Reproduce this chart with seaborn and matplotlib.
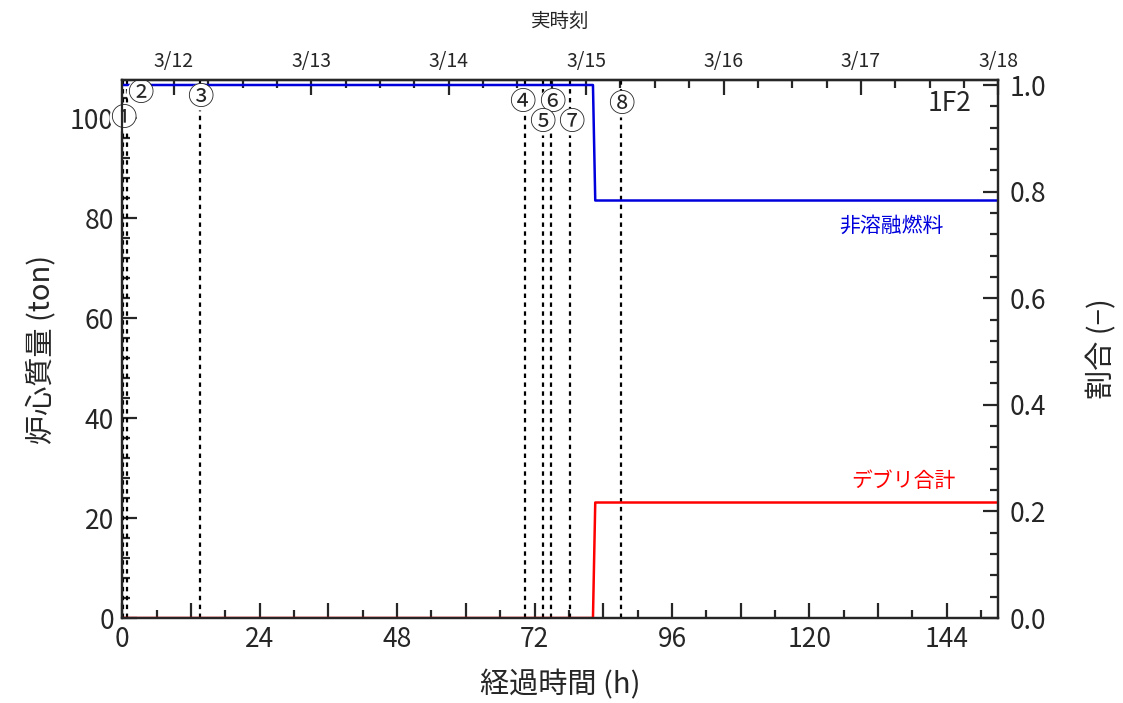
import numpy as np
import pandas as pd
import matplotlib
matplotlib.use("Agg")
import matplotlib.pyplot as plt
from matplotlib.ticker import MultipleLocator, FuncFormatter, FixedLocator
import seaborn as sns

# ── Data ──────────────────────────────────────────────────────────────────────
hours      = [0.0, 82.2, 82.6, 153.0]
fuel_ton   = [106.6, 106.6, 83.5, 83.5]     # 非溶融燃料
debris_ton = [0.0, 0.0, 23.1, 23.1]          # デブリ合計
total_ton  = 106.6

event_labels = ["①", "②", "③", "④", "⑤", "⑥", "⑦", "⑧"]
event_hours  = [0.75, 0.2, 13.5, 70.4, 73.5, 74.9, 78.2, 87.1]
label_x      = [0.1, 3.1, 13.7, 69.9, 73.4, 75.1, 78.4, 87.1]
label_y      = [100.0, 105.0, 104.2, 103.2, 99.2, 103.2, 99.2, 102.8]

date_hours  = [9, 33, 57, 81, 105, 129, 153]
date_labels = ["3/12", "3/13", "3/14", "3/15", "3/16", "3/17", "3/18"]

XMAX, YMAX = 153.0, 107.6

sns.set_style("ticks")
plt.rcParams["font.family"] = ["Noto Sans CJK JP", "DejaVu Sans"]
plt.rcParams["axes.linewidth"] = 1.6

df = pd.DataFrame({"h": hours, "fuel": fuel_ton, "debris": debris_ton})

fig = plt.figure(figsize=(11.23, 7.03), dpi=100)
ax = fig.add_axes([0.1089, 0.1209, 0.7801, 0.7653])

sns.lineplot(data=df, x="h", y="fuel", ax=ax, color="#0000dd", lw=1.8, zorder=4)
sns.lineplot(data=df, x="h", y="debris", ax=ax, color="#ff0000", lw=1.8, zorder=4)

for t in event_hours:
    ax.axvline(t, color="black", lw=1.6, linestyle=(0, (2, 2)), zorder=3)
# upper labels first, lower row on top so their circles stay whole
order = sorted(range(len(event_labels)), key=lambda i: -label_y[i])
for i in order:
    ax.text(label_x[i], label_y[i], event_labels[i], ha="center", va="center",
            fontsize=19, zorder=6,
            bbox=dict(boxstyle="circle,pad=0.0", facecolor="white", edgecolor="none"))

ax.text(148.3, 103.0, "1F2", ha="right", va="center", fontsize=19)
ax.text(134.3, 78.4, "非溶融燃料", ha="center", va="center", fontsize=15, color="#0000dd")
ax.text(136.4, 27.4, "デブリ合計", ha="center", va="center", fontsize=15, color="#ff0000")

ax.set_xlim(0, XMAX)
ax.set_ylim(0, YMAX)
ax.xaxis.set_major_locator(MultipleLocator(12))
ax.xaxis.set_minor_locator(MultipleLocator(6))
ax.xaxis.set_major_formatter(FuncFormatter(lambda v, p: f"{v:.0f}" if v % 24 == 0 else ""))
ax.yaxis.set_major_locator(MultipleLocator(20))
ax.yaxis.set_minor_locator(MultipleLocator(4))
ax.tick_params(axis="both", which="major", direction="in", length=11, width=1.6,
               labelsize=19, pad=6)
ax.tick_params(axis="both", which="minor", direction="in", length=6, width=1.6)
ax.tick_params(axis="x", top=False)
ax.set_xlabel("経過時間 (h)", fontsize=21, labelpad=12)
ax.set_ylabel("炉心質量 (ton)", fontsize=21, labelpad=10)

# right axis: fraction of core mass
ax2 = ax.twinx()
ax2.set_ylim(0, YMAX / total_ton)
ax2.yaxis.set_major_locator(MultipleLocator(0.2))
ax2.yaxis.set_minor_locator(MultipleLocator(0.04))
ax2.yaxis.set_major_formatter(FuncFormatter(lambda v, p: f"{v:.1f}"))
ax2.tick_params(axis="y", which="major", direction="in", length=11, width=1.6,
                labelsize=19, pad=8)
ax2.tick_params(axis="y", which="minor", direction="in", length=6, width=1.6)
ax2.set_ylabel("割合 (−)", fontsize=21, rotation=90, labelpad=30)

# top axis: real date
top = ax.secondary_xaxis("top")
top.set_xticks(date_hours)
top.set_xticklabels(date_labels)
top.xaxis.set_minor_locator(FixedLocator(
    [h for h in np.arange(date_hours[0] - 6, XMAX + 0.1, 6) if h not in date_hours and h >= 0]))
top.tick_params(axis="x", which="major", direction="in", length=11, width=1.6,
                labelsize=14, pad=6)
top.tick_params(axis="x", which="minor", direction="in", length=6, width=1.6)
top.set_xlabel("実時刻", fontsize=14, labelpad=17)

fig.savefig("out.png", dpi=100)
